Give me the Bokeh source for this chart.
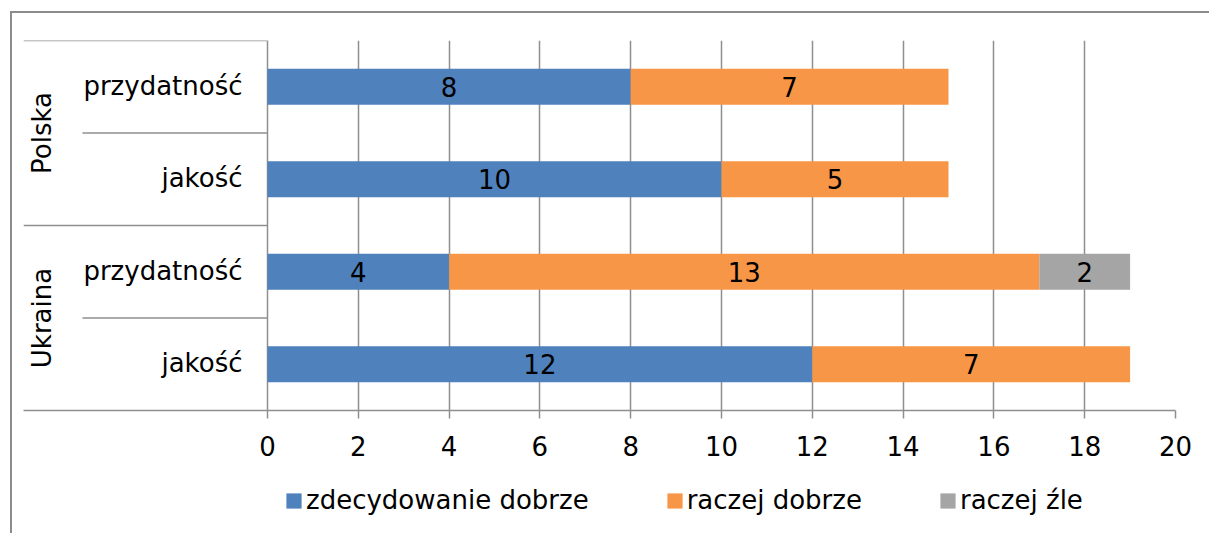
from bokeh.plotting import figure
from bokeh.layouts import column
from bokeh.models import ColumnDataSource, Range1d, FixedTicker, Legend, LegendItem
from bokeh.core.properties import value
from bokeh.embed import file_html
from bokeh.resources import INLINE

# ---- data ----
groups = ["Polska", "Polska", "Ukraina", "Ukraina"]
aspects = ["przydatność", "jakość", "przydatność", "jakość"]
series_names = ["zdecydowanie dobrze", "raczej dobrze", "raczej źle"]
zdecydowanie_dobrze = [8, 10, 4, 12]
raczej_dobrze = [7, 5, 13, 7]
raczej_zle = [0, 0, 2, 0]
colors = ["#4F81BD", "#F79646", "#A5A5A5"]
x_ticks = [0, 2, 4, 6, 8, 10, 12, 14, 16, 18, 20]

FONT = value("DejaVu Sans")
FS = "26px"
LINE = "#8f8f8f"
BORDER = "#8c8c8c"

n = len(aspects)
ys = [n - i - 0.5 for i in range(n)]
src = ColumnDataSource(dict(y=ys, s0=zdecydowanie_dobrze, s1=raczej_dobrze, s2=raczej_zle))

W = 1209
H1 = 470
H2 = 63

p = figure(width=W, height=H1, output_backend="svg", toolbar_location=None,
           x_range=Range1d(-5.374, 20), y_range=Range1d(0, n),
           y_axis_type=None, min_border_left=23, min_border_right=34,
           min_border_top=40, min_border_bottom=H1 - 410)
p.outline_line_color = None
p.border_fill_color = None
p.background_fill_color = "white"
p.styles = {
    "background-image": f"linear-gradient({BORDER}, {BORDER}), linear-gradient({BORDER}, {BORDER})",
    "background-size": "2px 100%, 100% 2px",
    "background-position": "10px 11px, 10px 11px",
    "background-repeat": "no-repeat",
}

# grid
p.xgrid.ticker = FixedTicker(ticks=x_ticks)
p.xgrid.grid_line_color = LINE
p.xgrid.grid_line_width = 1.5
p.ygrid.visible = False

# x axis
p.xaxis.ticker = FixedTicker(ticks=x_ticks)
p.xaxis.axis_line_color = LINE
p.xaxis.axis_line_width = 1.5
p.xaxis.major_tick_line_color = LINE
p.xaxis.major_tick_line_width = 1.5
p.xaxis.major_tick_out = 8
p.xaxis.major_tick_in = 0
p.xaxis.minor_tick_line_color = None
p.xaxis.major_label_text_font = "DejaVu Sans"
p.xaxis.major_label_text_font_size = FS
p.xaxis.major_label_text_color = "#000000"
p.xaxis.major_label_standoff = 17

# bars
p.hbar_stack(["s0", "s1", "s2"], y="y", height=0.39, color=colors,
             line_color=None, source=src)

# value labels
lx, ly, lt = [], [], []
for i in range(n):
    left = 0
    for vals in (zdecydowanie_dobrze, raczej_dobrze, raczej_zle):
        v = vals[i]
        if v > 0:
            lx.append(left + v / 2)
            ly.append(ys[i])
            lt.append(str(v))
        left += v
p.text(x=lx, y=ly, text=lt, text_font=FONT, text_font_size=value(FS),
       text_align="center", text_baseline="middle", text_color="#000000")

# category labels (inner)
p.text(x=[0] * n, y=ys, text=aspects, x_offset=-25, y_offset=-1, text_font=FONT,
       text_font_size=value(FS), text_align="right", text_baseline="middle",
       text_color="#000000")

# group labels (outer, rotated)
uniq_groups = []
for g in groups:
    if g not in uniq_groups:
        uniq_groups.append(g)
gy = []
for g in uniq_groups:
    idx = [i for i, gg in enumerate(groups) if gg == g]
    gy.append(sum(ys[i] for i in idx) / len(idx))
p.text(x=[-4.96] * len(uniq_groups), y=gy, text=uniq_groups, angle=1.5708,
       text_font=FONT, text_font_size=value(FS), text_align="center",
       text_baseline="middle", text_color="#000000")

# table separator lines
sx0, sy = [], []
for i in range(n):
    top = n - i
    if i == 0 or groups[i] != groups[i - 1]:
        sx0.append(-5.374)
    else:
        sx0.append(-4.075)
    sy.append(top)
p.segment(x0=sx0, y0=sy, x1=[0] * len(sy), y1=sy, line_color=LINE, line_width=1.5)

# ---- legend strip below ----
lg = figure(width=W, height=H2, output_backend="svg", toolbar_location=None,
            x_range=Range1d(0, 20), y_range=Range1d(100, 101),
            x_axis_type=None, y_axis_type=None,
            min_border_left=0, min_border_right=0, min_border_top=0, min_border_bottom=0)
lg.outline_line_color = None
lg.border_fill_color = None
lg.background_fill_color = None
lg.grid.visible = False
lg.styles = {
    "background-image": f"linear-gradient({BORDER}, {BORDER})",
    "background-size": "2px 100%",
    "background-position": "10px 0px",
    "background-repeat": "no-repeat",
}
leg_renderers = lg.hbar_stack(["s0", "s1", "s2"], y="y", height=0.39, color=colors,
                              line_color=None, source=src)
for r in leg_renderers:
    r.visible = False

items = [LegendItem(label=series_names[k], renderers=[leg_renderers[k]]) for k in range(3)]
legend = Legend(items=items, orientation="horizontal", location=(261, 18),
                glyph_width=19, glyph_height=19, label_standoff=3, spacing=76,
                padding=0, margin=0, border_line_color=None, background_fill_alpha=0,
                label_text_font="DejaVu Sans", label_text_font_size=FS,
                label_text_color="#000000", click_policy="none")
lg.add_layout(legend)

layout = column(p, lg, spacing=0)
open("out.html", "w").write(file_html(layout, INLINE))
